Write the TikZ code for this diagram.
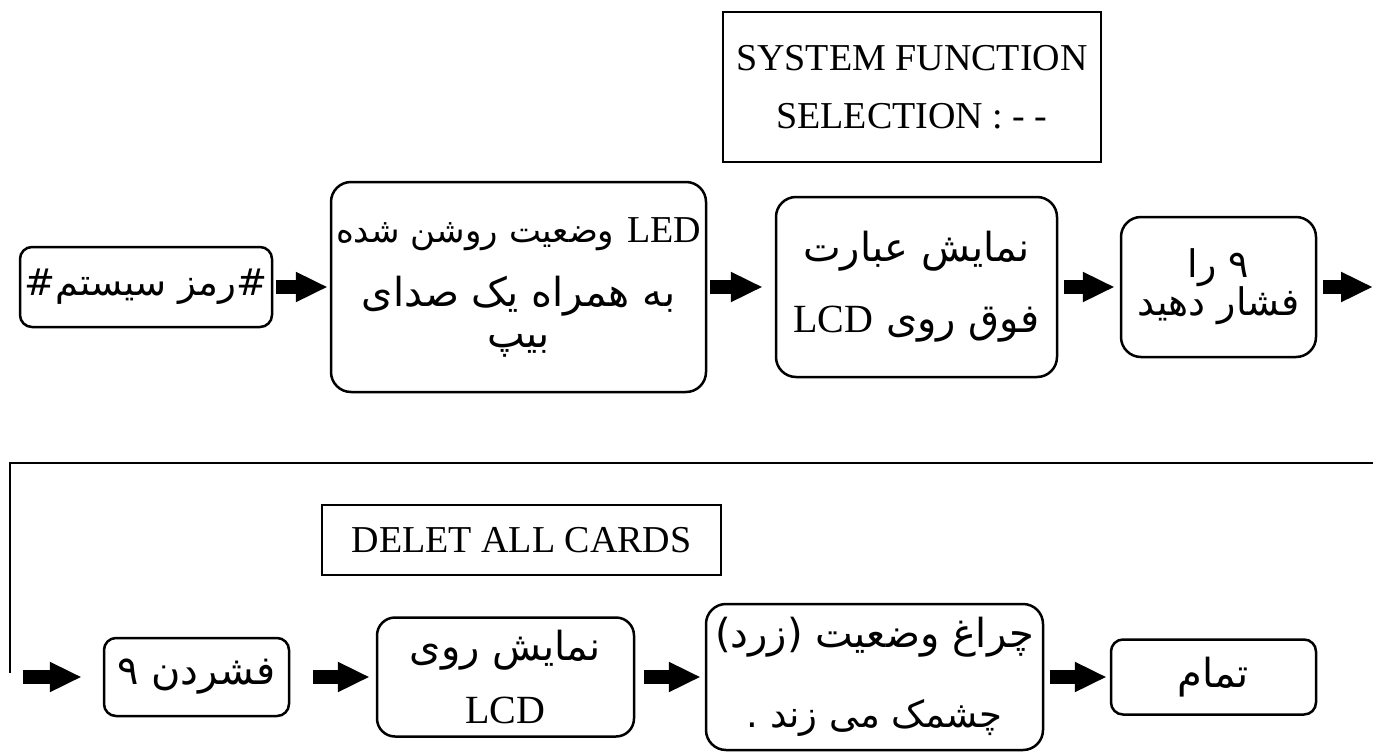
\documentclass[tikz,border=0pt]{standalone}
\usepackage{fontspec}
\setmainfont{Liberation Serif}
\newfontfamily\fa[Script=Arabic]{DejaVu Sans}
\TeXXeTstate=1
\usetikzlibrary{arrows.meta}

\tikzset{
  roundbox/.style={draw, line width=2.5pt, rounded corners=20pt, inner sep=0pt, align=center,
    font={\lineskiplimit=-100pt\fa\fontsize{40}{40}\selectfont}},
  lcdbox/.style={draw, line width=2.5pt, inner sep=0pt, align=center,
    font={\lineskiplimit=-100pt\fontsize{38}{58}\selectfont}},
  flowarrow/.style={line width=14pt, -{Triangle[length=32pt,width=28pt]}},
  wrapline/.style={line width=2.5pt}
}

\begin{document}
\begin{tikzpicture}[x=1pt, y=-1pt]
\useasboundingbox (0,0) rectangle (1373,752);

% top row
\node[lcdbox, minimum width=378pt, minimum height=150pt] (sysfunc) at (912,87) {SYSTEM FUNCTION\\SELECTION : - -};

\node[roundbox, rounded corners=12pt, minimum width=252pt, minimum height=80pt] (pass) at (146,287)
  {\fontsize{37}{37}\selectfont\beginR\#رمز سیستم\#\endR};
\node[roundbox, minimum width=375pt, minimum height=210pt] (led) at (518.5,287)
  {\beginR{\rmfamily\fontsize{38}{38}\selectfont\beginL LED\endL} {\fontsize{34}{34}\selectfont وضعیت روشن شده}\endR\\[24pt]
   \beginR به همراه یک صدای\endR\\[1pt]
   \beginR بیپ\endR};
\node[roundbox, minimum width=281pt, minimum height=180pt] (msg) at (916.5,287)
  {\beginR نمایش عبارت\endR\\[31pt]
   \beginR فوق روی {\rmfamily\fontsize{40}{40}\selectfont\beginL LCD\endL}\endR};
\node[roundbox, minimum width=195pt, minimum height=140pt] (nine) at (1218.5,287)
  {\fontsize{38}{38}\selectfont\beginR ۹ را\endR\\[-2pt]
   \fontsize{38}{38}\selectfont\beginR فشار دهید\endR};
\coordinate (outR) at (1373,287);

\draw[flowarrow, shorten <=3pt, shorten >=2pt] (pass) -- (led);
\draw[flowarrow, shorten <=3pt, shorten >=12pt] (led) -- (msg);
\draw[flowarrow, shorten <=6pt, shorten >=5pt] (msg) -- (nine);
\draw[flowarrow, shorten <=6pt] (nine) -- (outR);

% return line
\coordinate (wrapR) at (1373,463);
\coordinate (wrapL) at (10,673);
\draw[wrapline] (wrapR) -| (wrapL);

% bottom row
\node[lcdbox, minimum width=399pt, minimum height=70pt] (delall) at (521.5,540) {DELET ALL CARDS};

\coordinate (inL) at (23,677);
\node[roundbox, rounded corners=12pt, minimum width=185pt, minimum height=78pt] (push) at (196.5,677)
  {\beginR فشردن ۹\endR};
\node[roundbox, rounded corners=18pt, minimum width=257pt, minimum height=119pt] (show) at (505.5,677)
  {\beginR نمایش روی\endR\\[23pt]
   {\rmfamily\fontsize{40}{40}\selectfont LCD}};
\node[roundbox, minimum width=337pt, minimum height=146pt] (blink) at (874.5,677)
  {\beginR چراغ وضعیت (زرد)\endR\\[40pt]
   {\fontsize{37}{37}\selectfont\beginR چشمک می زند .\endR}};
\node[roundbox, rounded corners=12pt, minimum width=205pt, minimum height=75pt] (done) at (1213.5,677)
  {\beginR تمام\endR};

\draw[flowarrow, shorten >=21pt] (inL) -- (push);
\draw[flowarrow, shorten <=23pt, shorten >=6pt] (push) -- (show);
\draw[flowarrow, shorten <=9pt, shorten >=4pt] (show) -- (blink);
\draw[flowarrow, shorten <=6pt, shorten >=3pt] (blink) -- (done);
\end{tikzpicture}
\end{document}
